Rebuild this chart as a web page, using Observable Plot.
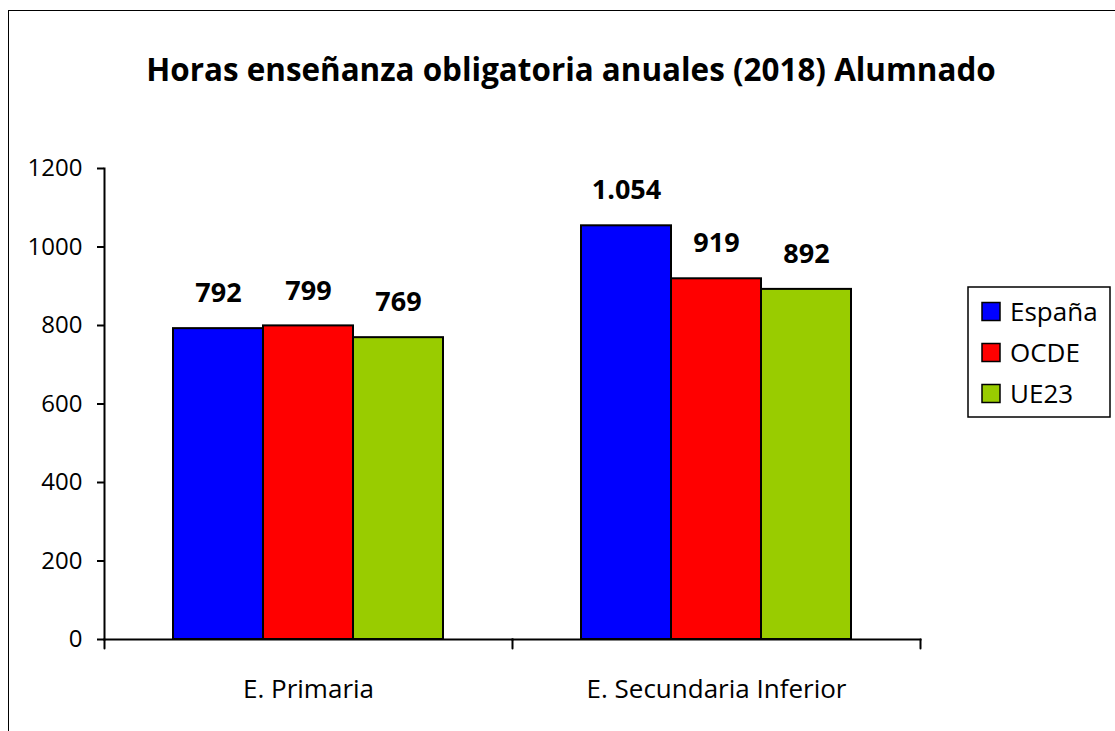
<!DOCTYPE html>
<html>
<head>
<meta charset="utf-8">
<script src="https://cdn.jsdelivr.net/npm/d3@7"></script>
<script src="https://cdn.jsdelivr.net/npm/@observablehq/plot@0.6"></script>
<style>
  html, body { margin: 0; padding: 0; background: #fff; overflow: hidden; }
  #wrap { position: relative; width: 1115px; height: 731px; overflow: hidden; font-family: "Open Sans", sans-serif; background: #fff; }
  #border { position: absolute; left: 8px; top: 10px; width: 1200px; height: 800px; border: 1.5px solid #000; }
  #chart { position: absolute; left: 0; top: 0; }
  #overlay { position: absolute; left: 0; top: 0; }
</style>
</head>
<body>
<div id="wrap">
  <div id="border"></div>
  <div id="chart"></div>
</div>
<script>
const title = "Horas enseñanza obligatoria anuales (2018) Alumnado";
const categories = ["E. Primaria", "E. Secundaria Inferior"];
const series = ["España", "OCDE", "UE23"];
const colors = ["#0000FF", "#FF0000", "#99CC00"];
const espana = [792, 1054];
const ocde = [799, 919];
const ue23 = [769, 892];
const yTicks = [0, 200, 400, 600, 800, 1000, 1200];

const values = [espana, ocde, ue23];
const data = categories.flatMap((c, i) =>
  series.map((s, j) => ({cat: c, series: s, value: values[j][i]})));

const es = d3.formatLocale({decimal: ",", thousands: ".", grouping: [3], currency: ["", " €"]});
const fmt = es.format(",d");

const tickShape = {draw(ctx, l) { ctx.moveTo(0, 0); ctx.lineTo(0, -l); }};

const plot = Plot.plot({
  width: 1115,
  height: 731,
  marginLeft: 103,
  marginRight: 195,
  marginTop: 168,
  marginBottom: 92,
  style: {fontFamily: "'Open Sans', sans-serif", color: "#000", background: "transparent", overflow: "visible"},
  fx: {domain: categories, padding: 0, label: null},
  x: {domain: series, paddingInner: 0, paddingOuter: 0.745, axis: null},
  y: {domain: [0, 1200], axis: null},
  color: {domain: series, range: colors},
  marks: [
    Plot.barY(data, {fx: "cat", x: "series", y: "value", fill: "series", stroke: "#000", strokeWidth: 2, inset: 0}),
    Plot.text(data, {fx: "cat", x: "series", y: "value", text: d => fmt(d.value), dy: -35, fontSize: 27, fontWeight: "bold"}),
    Plot.axisY({ticks: yTicks, tickSize: 7, tickPadding: 15, fontSize: 24, tickFormat: d3.format("d"), strokeWidth: 2, label: null}),
    Plot.axisFx({anchor: "bottom", tickSize: 0, tickPadding: 40, fontSize: 26, label: null}),
    Plot.frame({anchor: "bottom", strokeWidth: 2}),
    Plot.frame({anchor: "left", facet: "super", strokeWidth: 2}),
    Plot.vector([0], {frameAnchor: "bottom-left", length: 9, rotate: 180, anchor: "start", shape: tickShape, strokeWidth: 2}),
    Plot.vector([0], {frameAnchor: "bottom-right", length: 9, rotate: 180, anchor: "start", shape: tickShape, strokeWidth: 2, facet: "super"})
  ]
});
document.getElementById("chart").appendChild(plot);

// Title and legend overlay
const overlay = d3.select("#wrap").append("svg")
  .attr("id", "overlay").attr("width", 1115).attr("height", 731)
  .style("font-family", "'Open Sans', sans-serif");
overlay.append("text")
  .attr("x", 571).attr("y", 81)
  .attr("text-anchor", "middle")
  .attr("font-weight", "bold").attr("font-size", 31.4)
  .text(title);

const lg = overlay.append("g");
lg.append("rect").attr("x", 968).attr("y", 287).attr("width", 142).attr("height", 130)
  .attr("fill", "#fff").attr("stroke", "#000").attr("stroke-width", 1.5);
series.forEach((s, i) => {
  lg.append("rect").attr("x", 982).attr("y", 302.5 + i * 41).attr("width", 18).attr("height", 18)
    .attr("fill", colors[i]).attr("stroke", "#000").attr("stroke-width", 1.5);
  lg.append("text").attr("x", 1010).attr("y", 320.5 + i * 41)
    .attr("font-size", 26).text(s);
});
</script>
</body>
</html>
